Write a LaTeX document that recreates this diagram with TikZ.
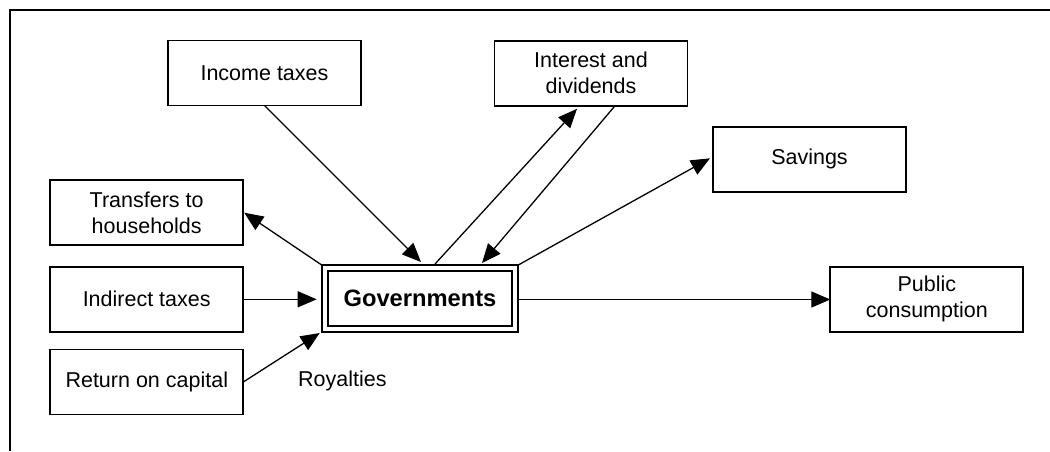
\documentclass[tikz,border=0pt]{standalone}
\usepackage{fontspec}
\setmainfont{Liberation Sans}
\usetikzlibrary{arrows.meta,calc}

\tikzset{
  flowbox/.style={draw=black, line width=1.8pt, fill=white, outer sep=0pt,
    align=center, inner sep=2pt, minimum width=193pt, minimum height=65pt,
    font=\fontsize{21.5}{26}\selectfont},
  govbox/.style={draw=black, double=white, double distance=4pt, line width=1.9pt,
    outer sep=0pt, minimum width=190.6pt, minimum height=61pt, inner sep=0pt,
    font=\fontsize{23.7}{28}\selectfont\bfseries},
  flow/.style={line width=1.3pt, -{Triangle[length=19pt,width=16pt]}},
  tag/.style={font=\fontsize{21.5}{26}\selectfont, inner sep=0pt, anchor=west},
  frameline/.style={line width=2.6pt}
}

\begin{document}
\begin{tikzpicture}[x=1pt,y=-1pt]
\useasboundingbox (0,0) rectangle (1050,451);

% open frame: top and left edges only
\draw[frameline] (10,451) -- (10,10) -- (1050,10);

% central node
\node[govbox] (gov) at (420,298.5) {Governments};

% surrounding accounts
\node[flowbox] (income)    at (264.5,73)    {Income taxes};
\node[flowbox] (interest)  at (591,73.3)    {Interest and\\dividends};
\node[flowbox] (savings)   at (809.5,159.3) {Savings};
\node[flowbox] (transfers) at (146.7,212.7) {Transfers to\\households};
\node[flowbox] (indirect)  at (146.7,299.3) {Indirect taxes};
\node[flowbox] (return)    at (146.8,382)   {Return on capital};
\node[flowbox] (public)    at (926.8,299.2) {Public\\consumption};

\node[tag] (royalties) at (298,381) {Royalties};

% flows
\draw[flow] (income.south) -- ($(gov.north)+(1,-6)$);
\draw[flow] ($(gov.north)+(15,-4)$) -- ($(interest.south)+(-14,3)$);
\draw[flow] ($(interest.south)+(24,0)$) -- ($(gov.north)+(62,-5)$);
\draw[flow] ($(gov.north east)+(3,-3)$) -- ($(savings.west)+(-3,-1)$);
\draw[flow] ($(gov.north west)+(-3,-3)$) -- ($(transfers.east)+(1,0)$);
\draw[flow, shorten >=8pt] (indirect.east) -- (indirect.east -| gov.west);
\draw[flow] (return.east) -- ($(gov.south west)+(-5,4)$);
\draw[flow, shorten >=0pt] ($(gov.east)+(3,1)$) -- ($(gov.east -| public.west)+(0,1)$);
\end{tikzpicture}
\end{document}
